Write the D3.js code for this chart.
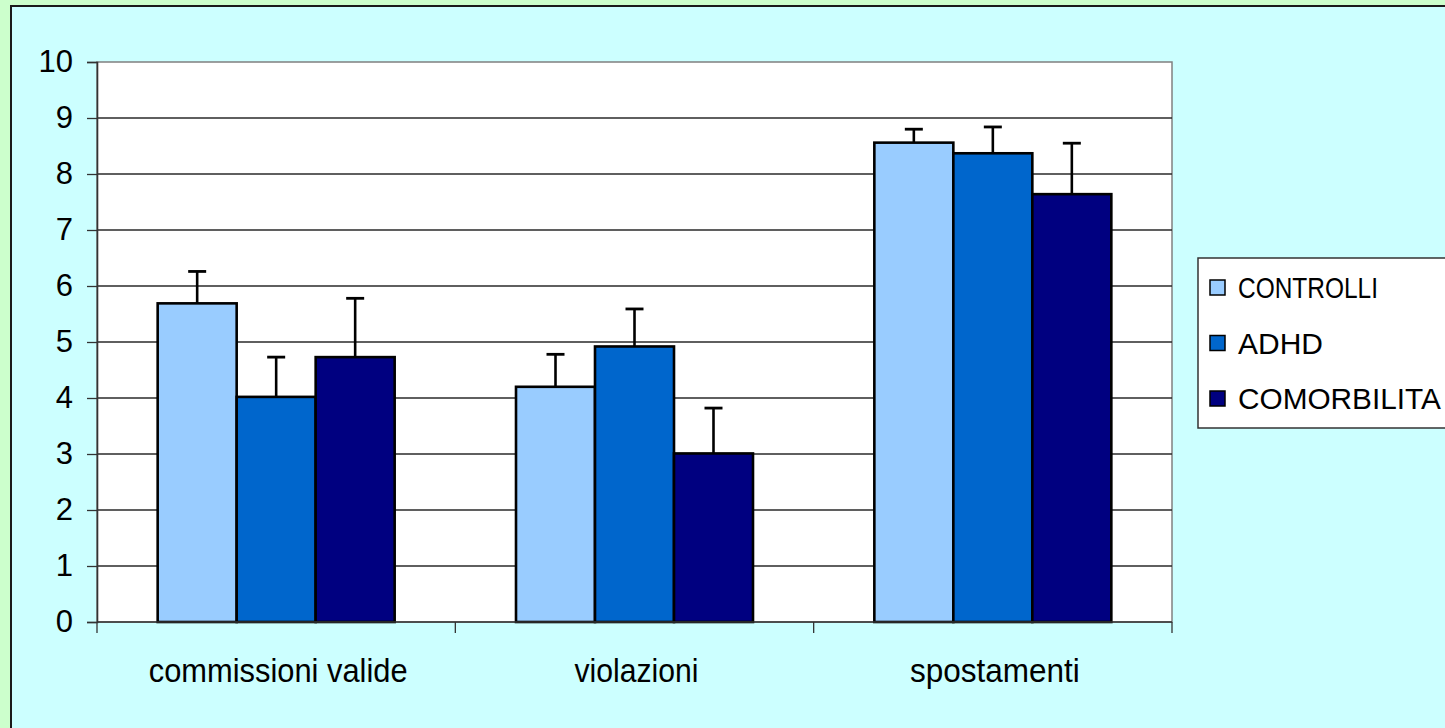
<!DOCTYPE html>
<html>
<head>
<meta charset="utf-8">
<script src="https://cdn.jsdelivr.net/npm/d3@7/dist/d3.min.js"></script>
<style>
html,body{margin:0;padding:0;background:#ccffcc;overflow:hidden;}
svg{display:block;}
text{font-family:"Liberation Sans",Arial,sans-serif;fill:#000;}
</style>
</head>
<body>
<svg id="chart" width="1445" height="728"></svg>
<script>
const categories = ["commissioni valide", "violazioni", "spostamenti"];
const seriesNames = ["CONTROLLI", "ADHD", "COMORBILITA"];
const seriesColors = ["#99ccff", "#0066cc", "#000080"];
const controlli = [5.69, 4.20, 8.56];
const adhd = [4.02, 4.92, 8.37];
const comorbilita = [4.73, 3.01, 7.64];
const controlliErr = [0.57, 0.58, 0.24];
const adhdErr = [0.71, 0.67, 0.47];
const comorbilitaErr = [1.05, 0.81, 0.91];
const yTicks = [0,1,2,3,4,5,6,7,8,9,10];

(function() {
const values = [controlli, adhd, comorbilita];
const errors = [controlliErr, adhdErr, comorbilitaErr];

const svg = d3.select("#chart");

// fit a text element horizontally to a target width by scaling X around an anchor
function fitText(sel, targetW, anchorX, anchor) {
  sel.each(function() {
    const node = this;
    const w = node.getComputedTextLength();
    const k = targetW / w;
    d3.select(node).attr("transform", `translate(${anchorX},0) scale(${k},1) translate(${-anchorX},0)`);
  });
}

// outer frame
svg.append("rect").attr("x", 11).attr("y", 6).attr("width", 1460).attr("height", 760)
  .attr("fill", "#ccffff").attr("stroke", "#1a1a1a").attr("stroke-width", 2);

const pLeft = 97, pRight = 1172, pTop = 62, pBottom = 622;
const x0 = d3.scaleBand().domain(categories).range([pLeft, pRight]).padding(0);
const x1 = d3.scaleBand().domain(seriesNames).range([0, x0.bandwidth()]).paddingInner(0).paddingOuter(0.768);
const y = d3.scaleLinear().domain([0, 10]).range([pBottom, pTop]);

// plot area
svg.append("rect").attr("x", pLeft).attr("y", pTop).attr("width", pRight - pLeft).attr("height", pBottom - pTop)
  .attr("fill", "#fff").attr("stroke", "#808080").attr("stroke-width", 1.5);

// gridlines
svg.append("g").selectAll("line").data(yTicks.filter(d => d > 0 && d < 10)).join("line")
  .attr("x1", pLeft).attr("x2", pRight)
  .attr("y1", d => y(d)).attr("y2", d => y(d))
  .attr("stroke", "#2a2a2a").attr("stroke-width", 1.3);

// y axis
const yAxis = d3.axisLeft(y).tickValues(yTicks).tickSize(10).tickPadding(14).tickFormat(d3.format("d"));
const gy = svg.append("g").attr("transform", `translate(${pLeft},0)`).call(yAxis);
gy.select(".domain").attr("stroke", "#333").attr("stroke-width", 1.6);
gy.selectAll(".tick line").attr("stroke", "#333").attr("stroke-width", 1.3);
gy.selectAll(".tick text").style("font-size", "31px").style("font-family", "'Liberation Sans', Arial, sans-serif").attr("fill", "#000");

// bars
const groups = svg.append("g").selectAll("g").data(categories).join("g")
  .attr("transform", d => `translate(${x0(d)},0)`);

groups.each(function(cat, ci) {
  const g = d3.select(this);
  seriesNames.forEach((s, si) => {
    const v = values[si][ci];
    const e = errors[si][ci];
    const bx = x1(s), bw = x1.bandwidth();
    g.append("rect").attr("x", bx).attr("y", y(v)).attr("width", bw).attr("height", y(0) - y(v))
      .attr("fill", seriesColors[si]).attr("stroke", "#000").attr("stroke-width", 2.6);
    const cx = bx + bw / 2;
    g.append("line").attr("x1", cx).attr("x2", cx).attr("y1", y(v)).attr("y2", y(v + e))
      .attr("stroke", "#000").attr("stroke-width", 2.6);
    g.append("line").attr("x1", cx - 9).attr("x2", cx + 9).attr("y1", y(v + e)).attr("y2", y(v + e))
      .attr("stroke", "#000").attr("stroke-width", 2.8);
  });
});

// x axis line and ticks
svg.append("line").attr("x1", pLeft).attr("x2", pRight).attr("y1", pBottom).attr("y2", pBottom)
  .attr("stroke", "#333").attr("stroke-width", 1.6);
const bounds = categories.map(c => x0(c)).concat([pRight]);
svg.append("g").selectAll("line").data(bounds).join("line")
  .attr("x1", d => d).attr("x2", d => d).attr("y1", pBottom).attr("y2", pBottom + 11)
  .attr("stroke", "#333").attr("stroke-width", 1.3);

// category labels
const catWidths = [259, 124, 170];
svg.append("g").selectAll("text").data(categories).join("text")
  .attr("x", d => x0(d) + x0.bandwidth() / 2 + 2).attr("y", 682)
  .attr("text-anchor", "middle").style("font-size", "34px")
  .text(d => d)
  .each(function(d, i) {
    fitText(d3.select(this), catWidths[i], x0(d) + x0.bandwidth() / 2 + 2);
  });

// legend
const lg = svg.append("g");
lg.append("rect").attr("x", 1198).attr("y", 258).attr("width", 270).attr("height", 170)
  .attr("fill", "#fff").attr("stroke", "#333").attr("stroke-width", 1.5);
const legWidths = [140, 85, 203];
seriesNames.forEach((s, i) => {
  const cy = 288 + i * 55.5;
  lg.append("rect").attr("x", 1210).attr("y", cy - 8).attr("width", 15).attr("height", 15)
    .attr("fill", seriesColors[i]).attr("stroke", "#000").attr("stroke-width", 1.5);
  const t = lg.append("text").attr("x", 1238).attr("y", cy + 10.5).style("font-size", "30px").text(s);
  fitText(t, legWidths[i], 1238);
});
})();
</script>
</body>
</html>
